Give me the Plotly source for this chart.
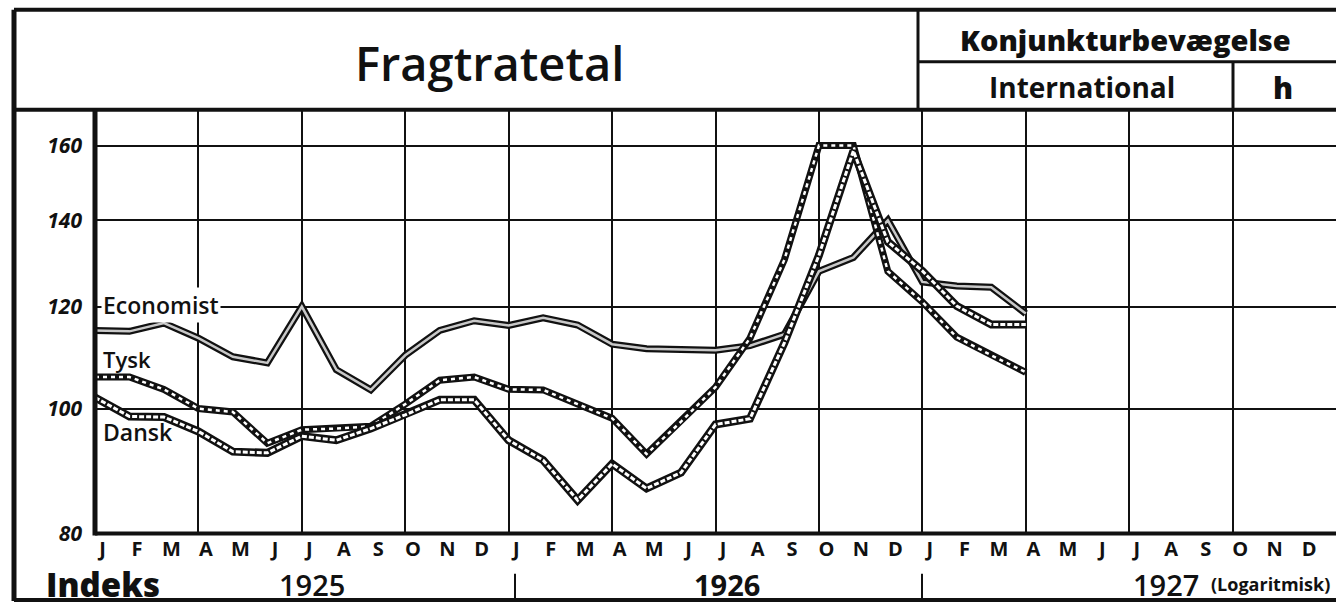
import math
import plotly.graph_objects as go

# ---- data (Jan 1925 .. Apr 1927, monthly index numbers, log scale) ----
months = ["J", "F", "M", "A", "M", "J", "J", "A", "S", "O", "N", "D"] * 3
years = ["1925", "1926", "1927"]
y_ticks = [80, 100, 120, 140, 160]

economist = [115.0, 114.8, 116.5, 113.4, 109.7, 108.5, 120.0, 107.2, 103.4, 110.0, 115.0, 117.0,
             116.0, 117.6, 116.1, 112.2, 111.3, 111.1, 111.0, 111.9, 114.2, 127.8, 131.0, 140.0,
             125.4, 124.5, 124.2, 118.5]
tysk = [105.8, 105.8, 103.5, 100.0, 99.4, 94.0, 96.3, 96.5, 96.9, 100.8, 105.2, 105.8,
        103.5, 103.4, 100.8, 98.3, 92.2, 97.7, 103.9, 113.4, 130.5, 160.0, 160.0, 127.8,
        121.0, 113.6, 110.0, 106.7]
dansk = [102.0, 98.6, 98.5, 96.0, 92.6, 92.4, 95.2, 94.5, 96.5, 98.9, 101.6, 101.6,
         94.5, 91.2, 84.9, 90.6, 86.7, 89.2, 97.2, 98.2, 112.5, 131.5, 158.5, 134.7,
         127.9, 120.1, 116.2, 116.2]

W, H = 1336, 616


def px(x):
    return x / W


def py(y):
    return 1 - y / H


FONT = "Open Sans"
fig = go.Figure()
xi = list(range(len(economist)))

styles = [
    (economist, "#c8c8c8", 2.5, "solid", 7),
    (tysk, "white", 2.5, "4px,4px", 7),
    (dansk, "white", 3, "5px,2px", 8),
]
for vals, inner, iw, dash, ow in styles:
    fig.add_trace(go.Scatter(x=xi, y=vals, mode="lines", showlegend=False, hoverinfo="skip",
                             line=dict(color="#111", width=ow)))
    fig.add_trace(go.Scatter(x=xi, y=vals, mode="lines", showlegend=False, hoverinfo="skip",
                             line=dict(color=inner, width=iw, dash=dash)))

fig.update_layout(
    width=W, height=H, autosize=False,
    margin=dict(l=0, r=0, t=0, b=0),
    paper_bgcolor="white", plot_bgcolor="white",
    xaxis=dict(
        domain=[px(95), 1.0], range=[0, 36],
        tickmode="array", tickvals=[i + 0.22 for i in range(36)], ticktext=months,
        tickfont=dict(family=FONT, size=20, color="#111", weight="bold"),
        showgrid=False, zeroline=False, showline=False, ticks="",
        ticklabelstandoff=2,
        minor=dict(tickmode="array", tickvals=list(range(0, 37, 3)), showgrid=True,
                   gridcolor="#111", gridwidth=2, ticks=""),
    ),
    yaxis=dict(
        type="log", domain=[py(545), py(112)],
        range=[math.log10(80), math.log10(170.6)],
        tickmode="array", tickvals=y_ticks, ticktext=[str(v) for v in y_ticks],
        tickfont=dict(family=FONT, size=21, color="#111", weight="bold", style="italic"),
        showgrid=True, gridcolor="#111", gridwidth=2, zeroline=False, showline=False,
        ticks="", ticklabelstandoff=12,
    ),
)

shapes = []


def line(x0, y0, x1, y1, w):
    shapes.append(dict(type="line", xref="paper", yref="paper", x0=px(x0), y0=py(y0),
                       x1=px(x1), y1=py(y1), line=dict(color="#111", width=w), layer="above"))


line(14, 10, 1336, 10, 4)      # top border
line(14, 10, 14, 614, 5)       # left border
line(14, 613, 1336, 613, 4)    # bottom border
line(14, 112, 1336, 112, 4)    # header separator
line(918, 10, 918, 112, 3)
line(918, 63, 1336, 63, 3)
line(1233, 63, 1233, 112, 3)
line(95, 112, 95, 547, 5)      # y axis
line(95, 545, 1336, 545, 4)    # x axis
line(515, 586, 515, 613, 2)
line(922, 586, 922, 613, 2)
fig.update_layout(shapes=shapes)

ann = []


def text(x, y, s, size, anchor="center", weight="bold", bg=None, style="normal"):
    d = dict(xref="paper", yref="paper", x=px(x), y=py(y), text=s, showarrow=False,
             xanchor=anchor, yanchor="middle",
             font=dict(family=FONT, size=size, color="#111", weight=weight, style=style))
    if bg:
        d["bgcolor"] = bg
    ann.append(d)


text(490, 64, "Fragtratetal", 47, weight=600)
text(1125, 40, "Konjunkturbevægelse", 29, weight=800)
text(1082, 89, "International", 28, weight=700)
text(1283, 89, "h", 30, weight=800)
text(44, 597, "Indeks", 33, anchor="left", weight=800)
text(312, 597, years[0], 29, weight=600)
text(727, 597, years[1], 29, weight=700)
text(1166, 597, years[2], 29, weight=600)
text(1270, 597, "(Logaritmisk)", 18, weight=700)
text(101, 312, "Economist", 23, anchor="left", weight=600, bg="white")
text(101, 367, "Tysk", 22, anchor="left", weight=600)
text(101, 441, "Dansk", 23, anchor="left", weight=600)
fig.update_layout(annotations=ann)

fig.write_html("out.html",
               config={"displayModeBar": False, "responsive": False},
               post_script="document.body.style.margin='0';document.body.style.overflow='hidden';")
